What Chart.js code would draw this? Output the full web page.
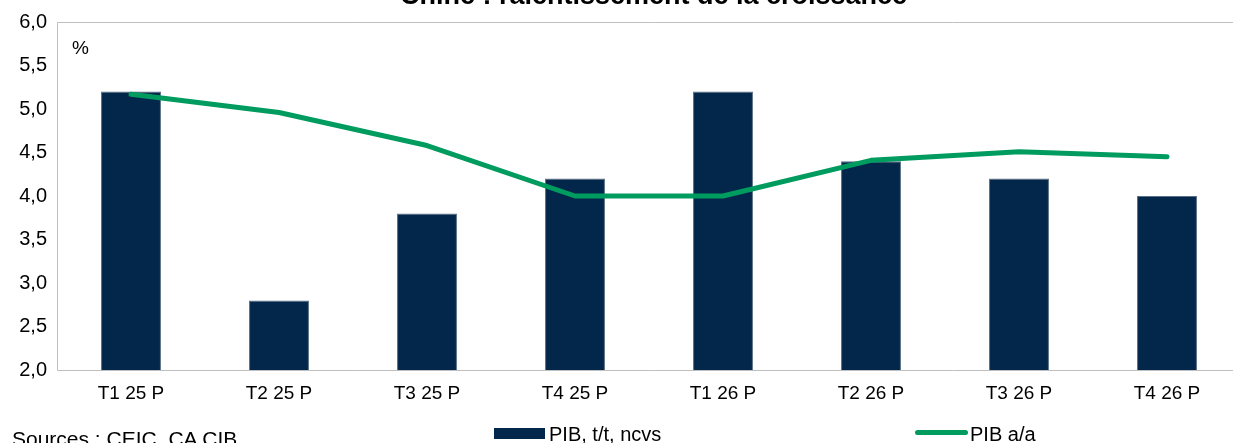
<!DOCTYPE html>
<html>
<head>
<meta charset="utf-8">
<script src="https://cdn.jsdelivr.net/npm/chart.js@4/dist/chart.umd.min.js"></script>
<style>
    html, body { margin: 0; padding: 0; background: #fff; overflow: hidden; }
    body { width: 1233px; height: 443px; position: relative; font-family: Arial, "Liberation Sans", sans-serif; }
    #wrap { position: absolute; left: 0; top: 0; width: 1250px; height: 443px; }
    .txt { position: absolute; white-space: nowrap; color: #000; }
    #title { font-weight: bold; font-size: 27px; left: 0; width: 1307px; text-align: center; top: -20px; }
    .swatch { position: absolute; }
</style>
</head>
<body>
<div id="wrap"><canvas id="chart" width="1250" height="443"></canvas></div>
<div id="title" class="txt">Chine : ralentissement de la croissance</div>
<div class="txt" style="left:72px; top:37px; font-size:19px;">%</div>
<div class="txt" style="left:12px; top:427px; font-size:21px;">Sources : CEIC, CA CIB</div>
<div class="swatch" style="left:494px; top:428px; width:51px; height:11px; background:#03274A;"></div>
<div class="txt" style="left:549px; top:423px; font-size:20px;">PIB, t/t, ncvs</div>
<div class="swatch" style="left:915px; top:430px; width:53px; height:5px; border-radius:3px; background:#009B5E;"></div>
<div class="txt" style="left:970px; top:423px; font-size:20px;">PIB a/a</div>

<script>
const categories = ['T1 25 P', 'T2 25 P', 'T3 25 P', 'T4 25 P', 'T1 26 P', 'T2 26 P', 'T3 26 P', 'T4 26 P'];
const pibTT = [5.2, 2.8, 3.8, 4.2, 5.2, 4.4, 4.2, 4.0];
const pibAA = [5.17, 4.96, 4.58, 4.0, 4.0, 4.41, 4.51, 4.45];
const yTicks = [2.0, 2.5, 3.0, 3.5, 4.0, 4.5, 5.0, 5.5, 6.0];

// plot frame (Excel style grey box, right side runs off the picture)
const framePlugin = {
    id: 'frame',
    beforeDatasetsDraw(chart) {
        const a = chart.chartArea;
        const ctx = chart.ctx;
        const l = Math.round(a.left) + 0.5;
        const t = Math.round(a.top) + 0.5;
        const b = Math.round(a.bottom) + 0.5;
        ctx.save();
        ctx.strokeStyle = '#BFBFBF';
        ctx.lineWidth = 1;
        ctx.beginPath();
        ctx.moveTo(a.right + 20, t);
        ctx.lineTo(l, t);
        ctx.lineTo(l, b);
        ctx.lineTo(a.right + 20, b);
        ctx.stroke();
        ctx.restore();
    }
};

const ctx = document.getElementById('chart');
new Chart(ctx, {
    type: 'bar',
    data: {
        labels: categories,
        datasets: [
            {
                type: 'line',
                label: 'PIB a/a',
                data: pibAA,
                borderColor: '#009B5E',
                borderWidth: 5,
                borderCapStyle: 'round',
                borderJoinStyle: 'round',
                pointRadius: 0,
                tension: 0,
                order: 0
            },
            {
                label: 'PIB, t/t, ncvs',
                data: pibTT,
                backgroundColor: '#03274A',
                borderColor: '#5A6F86',
                borderWidth: 1,
                barPercentage: 0.405,
                categoryPercentage: 1,
                order: 1
            }
        ]
    },
    options: {
        responsive: false,
        animation: false,
        layout: { padding: { top: 22, right: 9, left: 0, bottom: 0 } },
        plugins: {
            legend: { display: false },
            title: { display: false },
            tooltip: { enabled: false }
        },
        scales: {
            x: {
                grid: { display: false, drawTicks: false },
                border: { display: false },
                ticks: {
                    color: '#000',
                    font: { family: 'Arial, "Liberation Sans"', size: 19 },
                    padding: 12,
                    maxRotation: 0
                },
                afterFit: (scale) => { scale.height = 73; }
            },
            y: {
                min: 2,
                max: 6,
                afterBuildTicks: (scale) => { scale.ticks = yTicks.map((v) => ({ value: v })); },
                grid: { display: false, drawTicks: false },
                border: { display: false },
                ticks: {
                    color: '#000',
                    font: { family: 'Arial, "Liberation Sans"', size: 20 },
                    padding: 10,
                    callback: (v) => Number(v).toFixed(1).replace('.', ',')
                },
                afterFit: (scale) => { scale.width = 57; }
            }
        }
    },
    plugins: [framePlugin]
});
</script>
</body>
</html>
